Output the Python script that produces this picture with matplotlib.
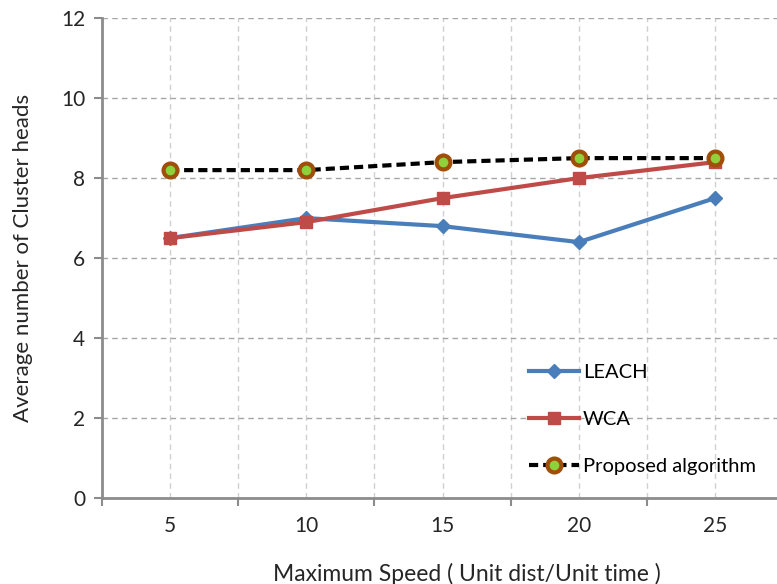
import numpy as np
import matplotlib
matplotlib.use("Agg")
import matplotlib.pyplot as plt

plt.rcParams['font.family'] = ['Lato', 'DejaVu Sans']

speeds = ['5', '10', '15', '20', '25']
leach = [6.5, 7.0, 6.8, 6.4, 7.5]
wca = [6.5, 6.9, 7.5, 8.0, 8.4]
proposed = [8.2, 8.2, 8.4, 8.5, 8.5]

x = np.arange(len(speeds))

fig = plt.figure(figsize=(7.77, 5.84), dpi=100)
ax = fig.add_axes([0.131, 0.147, 0.877, 0.822])

ax.plot(x, leach, color='#4a7ebb', lw=3, marker='D', ms=7, label='LEACH')
ax.plot(x, wca, color='#be4b48', lw=3, marker='s', ms=8, label='WCA')
ax.plot(x, proposed, color='black', lw=3, ls=(0, (2.2, 1.2)), marker='o', ms=10,
        mfc='#8fd13a', mec='#a04f0a', mew=3, label='Proposed algorithm')

ax.set_xlim(-0.5, 4.5)
ax.set_ylim(0, 12)
ax.set_yticks(np.arange(0, 13, 2))
ax.set_xticks(x)
ax.set_xticklabels(speeds)
ax.set_xticks(np.arange(-0.5, 5, 1), minor=True)

ax.grid(axis='y', color='#a6a6a6', ls=(0, (4, 3)), lw=1)
ax.grid(axis='x', which='both', color='#d0d0d0', ls=(0, (4, 3)), lw=1)
ax.set_axisbelow(True)

for s in ['top', 'right']:
    ax.spines[s].set_visible(False)
for s in ['left', 'bottom']:
    ax.spines[s].set_color('#8c8c8c')
    ax.spines[s].set_linewidth(2)

ax.tick_params(axis='y', which='major', length=6, width=1.5, color='#8c8c8c',
               labelsize=15, labelcolor='#262626', pad=6)
ax.tick_params(axis='x', which='major', length=0, labelsize=15,
               labelcolor='#262626', pad=13)
ax.tick_params(axis='x', which='minor', length=6, width=1.5, color='#8c8c8c')

ax.set_xlabel('Maximum Speed ( Unit dist/Unit time )', fontsize=16.5,
              color='#262626')
ax.xaxis.set_label_coords(0.536, -0.135)
ax.set_ylabel('Average number of Cluster heads', fontsize=16,
              color='#262626', labelpad=20)

ax.legend(loc='lower left', bbox_to_anchor=(0.6, 0.01), frameon=False,
          fontsize=14.5, labelspacing=1.5, handlelength=2.5, handletextpad=0.2)

fig.savefig('out.png', dpi=100)
